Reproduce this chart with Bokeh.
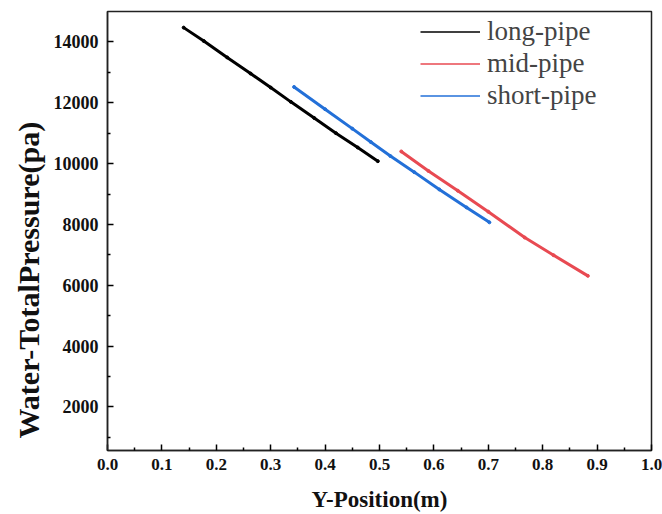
from bokeh.plotting import figure
from bokeh.embed import file_html
from bokeh.resources import INLINE
from bokeh.models import FixedTicker, NumeralTickFormatter, Range1d, Legend, LegendItem, Title

long_x = [0.140, 0.177, 0.220, 0.263, 0.300, 0.337, 0.380, 0.420, 0.460, 0.497]
long_y = [14470, 14030, 13490, 12960, 12500, 12030, 11500, 11000, 10530, 10080]
mid_x = [0.540, 0.590, 0.644, 0.700, 0.767, 0.820, 0.883]
mid_y = [10400, 9760, 9110, 8420, 7570, 6990, 6310]
short_x = [0.343, 0.400, 0.450, 0.484, 0.520, 0.564, 0.610, 0.660, 0.702]
short_y = [12520, 11790, 11150, 10710, 10250, 9720, 9150, 8560, 8070]

x_ticks = [0.0, 0.1, 0.2, 0.3, 0.4, 0.5, 0.6, 0.7, 0.8, 0.9, 1.0]
y_ticks = [2000, 4000, 6000, 8000, 10000, 12000, 14000]

FONT = "Times New Roman, Liberation Serif, DejaVu Serif, serif"

p = figure(width=662, height=514, output_backend="svg", toolbar_location=None,
           x_range=Range1d(0, 1.0), y_range=Range1d(570, 15000),
           min_border_left=107, min_border_right=11, min_border_top=11, min_border_bottom=64)
p.grid.visible = False
p.outline_line_color = "#222222"
p.outline_line_width = 1.5
p.background_fill_color = "white"
p.border_fill_color = "white"

series = [("long-pipe", long_x, long_y, "black"),
          ("mid-pipe", mid_x, mid_y, "#e84a52"),
          ("short-pipe", short_x, short_y, "#2370d8")]
items = []
for name, xs, ys, c in series:
    p.line(xs, ys, line_color=c, line_width=3)
    p.scatter(xs, ys, size=3, color=c)
    dummy = p.line([float("nan")], [float("nan")], line_color=c, line_width=1.5)
    items.append(LegendItem(label=name, renderers=[dummy]))

leg = Legend(items=items, location=(313, 339), border_line_color=None,
             background_fill_alpha=0, label_text_font=FONT,
             label_text_font_size="27px", glyph_width=60, glyph_height=31,
             label_height=31, spacing=1, padding=0, margin=0, label_standoff=7)
p.add_layout(leg)

p.xaxis.ticker = FixedTicker(ticks=x_ticks, minor_ticks=[0.05 + 0.1 * i for i in range(10)])
p.yaxis.ticker = FixedTicker(ticks=y_ticks, minor_ticks=[1000 + 2000 * i for i in range(7)])
p.xaxis.formatter = NumeralTickFormatter(format="0.0")
for ax in (p.xaxis, p.yaxis):
    ax.major_tick_in = 6
    ax.major_tick_out = 0
    ax.minor_tick_in = 3
    ax.minor_tick_out = 0
    ax.axis_line_width = 1.5
    ax.major_tick_line_width = 1.5
    ax.minor_tick_line_width = 1.5
    ax.axis_line_color = "#222222"
    ax.major_label_text_font = FONT
    ax.major_label_text_font_style = "bold"
    ax.major_label_text_color = "#111111"
    ax.axis_label_text_font = FONT
    ax.axis_label_text_font_style = "bold"
    ax.axis_label_text_color = "#111111"
p.xaxis.major_label_text_font_size = "17px"
p.yaxis.major_label_text_font_size = "18px"
p.xaxis.axis_label_text_font_size = "23px"
p.xaxis.axis_label = "Y-Position(m)"
p.xaxis.major_label_standoff = 8
p.yaxis.major_label_standoff = 9
p.xaxis.axis_label_standoff = 14

ytitle = Title(text="Water-TotalPressure(pa)", align="left", offset=12,
               text_font=FONT, text_font_style="bold", text_font_size="30px",
               text_color="#111111", standoff=12)
p.add_layout(ytitle, "left")

open("out.html", "w").write(file_html(p, INLINE))
